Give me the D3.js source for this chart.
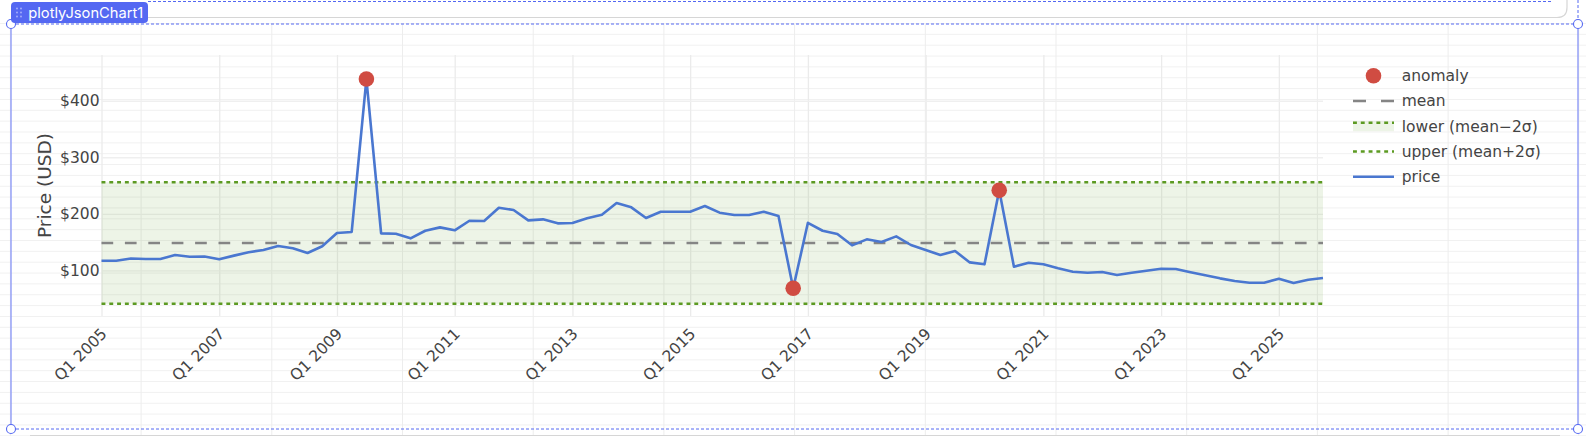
<!DOCTYPE html>
<html>
<head>
<meta charset="utf-8">
<script src="https://cdn.jsdelivr.net/npm/d3@7"></script>
<style>
  html, body { margin: 0; padding: 0; background: #fff; }
  svg { display: block; }
</style>
</head>
<body>
<svg id="chart" width="1586" height="436"></svg>
<script>
// quarterly categories Q1 2005 .. Q4 2025
const years = d3.range(2005, 2026);
const quarters = [];
years.forEach(yr => ["Q1", "Q2", "Q3", "Q4"].forEach(q => quarters.push(`${q} ${yr}`)));

const price = [
  117, 117, 121, 120, 120, 127, 124, 124.5, 119.5, 126, 132, 136,
  143, 139, 130.6, 142.5, 166, 167.8, 438.4, 165.4, 164.8, 156.6, 170, 176,
  170.8, 187.7, 187.2, 210.7, 206.7, 188.4, 190.2, 183.1, 183.7, 192, 198.4, 219,
  211.4, 192.5, 203.7, 203.7, 203.7, 213.7, 202, 197.8, 197.8, 203.7, 196, 68.2,
  184, 170, 164.2, 144.2, 154.8, 150, 160, 144.8, 135.9, 127, 134.1, 114,
  110.6, 241.5, 106.4, 113.5, 110.6, 103.5, 97.6, 95.8, 97, 91.7, 95.8, 99.3,
  102.8, 102.3, 96.5, 91.2, 85.8, 81, 78.1, 78.1, 85.1, 77.5, 83.3, 86.4
];

const anomalyQuarters = ["Q3 2009", "Q4 2016", "Q2 2020"];

const meanPrice = 148.3;
const lowerBand = 40.9;   // mean - 2 sigma
const upperBand = 255.7;  // mean + 2 sigma

const xTickLabels = ["Q1 2005", "Q1 2007", "Q1 2009", "Q1 2011", "Q1 2013", "Q1 2015",
                     "Q1 2017", "Q1 2019", "Q1 2021", "Q1 2023", "Q1 2025"];
const yTicks = [100, 200, 300, 400];

const legendNames = ["anomaly", "mean", "lower (mean\u22122\u03c3)", "upper (mean+2\u03c3)", "price"];

const colors = {
  price: "#4a77d0",
  anomaly: "#d04c42",
  mean: "#858585",
  band: "#5c9a22",
  text: "#444"
};

const W = 1586, H = 436;
const plot = { left: 101.5, right: 1323, top: 55, bottom: 316 };
const font = "'DejaVu Sans', Verdana, sans-serif";

const svg = d3.select("#chart");

// ---- editor canvas background grid ----
const bg = svg.append("g");
for (let yy = 23.5; yy < H; yy += 10.85) {
  bg.append("line").attr("x1", 0).attr("x2", W).attr("y1", yy).attr("y2", yy)
    .attr("stroke", "#f1f1f1").attr("stroke-width", 1);
}
for (let xx = 10.4; xx < W; xx += 130.7) {
  bg.append("line").attr("x1", xx).attr("x2", xx).attr("y1", 24).attr("y2", H)
    .attr("stroke", "#ededed").attr("stroke-width", 1);
}
bg.append("rect").attr("x", 0).attr("y", 0).attr("width", W).attr("height", 23).attr("fill", "#fff");

// ---- scales ----
const x = d3.scalePoint().domain(quarters).range([plot.left, plot.right]);
const y = d3.scaleLinear().domain([19.2, 480.9]).range([plot.bottom, plot.top]);

// grid lines
const g = svg.append("g");
g.append("g")
  .attr("transform", `translate(0,${plot.bottom})`)
  .call(d3.axisBottom(x).tickValues(xTickLabels).tickSize(-(plot.bottom - plot.top)).tickFormat(""))
  .call(a => a.select(".domain").remove())
  .call(a => a.selectAll("line").attr("stroke", "#ebebeb").attr("stroke-width", 1.3));

g.append("g")
  .attr("transform", `translate(${plot.left},0)`)
  .call(d3.axisLeft(y).tickValues(yTicks).tickSize(-(plot.right - plot.left)).tickFormat(""))
  .call(a => a.select(".domain").remove())
  .call(a => a.selectAll("line").attr("stroke", "#efefef").attr("stroke-width", 1.3));

// band fill between lower and upper
const first = quarters[0], last = quarters[quarters.length - 1];
g.append("path")
  .datum([first, last])
  .attr("d", d3.area().x(d => x(d)).y0(y(lowerBand)).y1(y(upperBand)))
  .attr("fill", colors.band).attr("fill-opacity", 0.11);

[lowerBand, upperBand].forEach(v => {
  g.append("path")
    .datum([first, last])
    .attr("d", d3.line().x(d => x(d)).y(y(v)))
    .attr("fill", "none").attr("stroke", colors.band)
    .attr("stroke-width", 2.6).attr("stroke-dasharray", "3.9,3.9");
});

g.append("path")
  .datum([first, last])
  .attr("d", d3.line().x(d => x(d)).y(y(meanPrice)))
  .attr("fill", "none").attr("stroke", colors.mean)
  .attr("stroke-width", 2.6).attr("stroke-dasharray", "11.7,11.7");

// price line
g.append("path")
  .datum(price)
  .attr("d", d3.line().x((d, i) => x(quarters[i])).y(d => y(d)))
  .attr("fill", "none").attr("stroke", colors.price)
  .attr("stroke-width", 2.6).attr("stroke-linejoin", "round");

// anomalies
g.selectAll(".anom")
  .data(anomalyQuarters)
  .join("circle")
  .attr("cx", d => x(d))
  .attr("cy", d => y(price[quarters.indexOf(d)]))
  .attr("r", 7.8)
  .attr("fill", colors.anomaly);

// ---- axes labels ----
const yAxis = svg.append("g")
  .attr("transform", `translate(${plot.left},0)`)
  .call(d3.axisLeft(y).tickValues(yTicks).tickSize(0).tickPadding(2).tickFormat(d => "$" + d));
yAxis.select(".domain").remove();
yAxis.selectAll("text")
  .attr("fill", colors.text).style("font-family", font).style("font-size", "15.5px");

const xAxis = svg.append("g")
  .attr("transform", `translate(0,${plot.bottom})`)
  .call(d3.axisBottom(x).tickValues(xTickLabels).tickSize(0));
xAxis.select(".domain").remove();
xAxis.selectAll("text")
  .attr("fill", colors.text).style("font-family", font).style("font-size", "15.5px")
  .attr("text-anchor", "end")
  .attr("x", 0).attr("y", 0).attr("dy", "0.35em")
  .attr("transform", "translate(2,15) rotate(-45)");

svg.append("text")
  .attr("transform", `translate(51,${(plot.top + plot.bottom) / 2}) rotate(-90)`)
  .attr("text-anchor", "middle")
  .attr("fill", colors.text)
  .style("font-family", font).style("font-size", "18.5px")
  .text("Price (USD)");

// ---- legend ----
const legend = svg.append("g").attr("transform", "translate(1353,0)");
legendNames.forEach((name, i) => {
  const cy = 75.7 + i * 25.25;
  const item = legend.append("g");
  if (name === "anomaly") {
    item.append("circle").attr("cx", 20.5).attr("cy", cy).attr("r", 7.8).attr("fill", colors.anomaly);
  } else if (name === "mean") {
    item.append("line").attr("x1", 0).attr("x2", 41).attr("y1", cy).attr("y2", cy)
      .attr("stroke", colors.mean).attr("stroke-width", 2.6).attr("stroke-dasharray", "13,15");
  } else if (name.startsWith("lower")) {
    item.append("rect").attr("x", 0).attr("y", cy - 5).attr("width", 41).attr("height", 10)
      .attr("fill", colors.band).attr("fill-opacity", 0.11);
    item.append("line").attr("x1", 0).attr("x2", 41).attr("y1", cy - 3.5).attr("y2", cy - 3.5)
      .attr("stroke", colors.band).attr("stroke-width", 2.6).attr("stroke-dasharray", "3.9,3.9");
  } else if (name.startsWith("upper")) {
    item.append("line").attr("x1", 0).attr("x2", 41).attr("y1", cy).attr("y2", cy)
      .attr("stroke", colors.band).attr("stroke-width", 2.6).attr("stroke-dasharray", "3.9,3.9");
  } else {
    item.append("line").attr("x1", 0).attr("x2", 41).attr("y1", cy).attr("y2", cy)
      .attr("stroke", colors.price).attr("stroke-width", 2.6);
  }
  item.append("text")
    .attr("x", 48.7).attr("y", cy).attr("dy", "0.35em")
    .attr("fill", colors.text)
    .style("font-family", font).style("font-size", "15.5px")
    .text(name);
});

// ---- editor selection chrome ----
const chrome = svg.append("g");
const blue = "#5468f2";
// element above (gray rounded edge)
chrome.append("path")
  .attr("d", "M148,17.5 H1557 Q1567,17.5 1567,7.5 V0")
  .attr("fill", "none").attr("stroke", "#d6d6d6").attr("stroke-width", 1.2);
chrome.append("path")
  .attr("d", "M148,1.5 H1552")
  .attr("fill", "none").attr("stroke", blue).attr("stroke-width", 1).attr("stroke-dasharray", "3,2");
chrome.append("path")
  .attr("d", "M1578,0 V20")
  .attr("fill", "none").attr("stroke", blue).attr("stroke-width", 1).attr("stroke-dasharray", "3,2");
// element below
chrome.append("path")
  .attr("d", "M30,435.5 H1560")
  .attr("fill", "none").attr("stroke", "#d6d6d6").attr("stroke-width", 1.2);

// selection box
chrome.append("line").attr("x1", 11).attr("x2", 11).attr("y1", 24).attr("y2", 429)
  .attr("stroke", "#8693f6").attr("stroke-width", 1.3);
chrome.append("line").attr("x1", 1578).attr("x2", 1578).attr("y1", 24).attr("y2", 429)
  .attr("stroke", "#8693f6").attr("stroke-width", 1.3);
[24, 429].forEach(yy => {
  chrome.append("line").attr("x1", 11).attr("x2", 1578).attr("y1", yy).attr("y2", yy)
    .attr("stroke", blue).attr("stroke-width", 1).attr("stroke-dasharray", "3,2");
});
[[11, 24], [1578, 24], [11, 429], [1578, 429]].forEach(([cx, cy]) => {
  chrome.append("circle").attr("cx", cx).attr("cy", cy).attr("r", 4.5)
    .attr("fill", "#fff").attr("stroke", blue).attr("stroke-width", 1.1);
});

// name tab
chrome.append("rect").attr("x", 11).attr("y", 2).attr("width", 137).attr("height", 21).attr("rx", 4)
  .attr("fill", blue);
[17, 21].forEach(dx => [8.5, 12.5, 16.5].forEach(dy => {
  chrome.append("circle").attr("cx", dx).attr("cy", dy).attr("r", 0.9).attr("fill", "#aab4fa");
}));
chrome.append("text")
  .attr("x", 28.3).attr("y", 12.5).attr("dy", "0.35em")
  .attr("fill", "#fff")
  .attr("textLength", 115).attr("lengthAdjust", "spacingAndGlyphs")
  .style("font-family", "Inter, 'Noto Sans', sans-serif").style("font-size", "14.5px")
  .text("plotlyJsonChart1");
</script>
</body>
</html>
